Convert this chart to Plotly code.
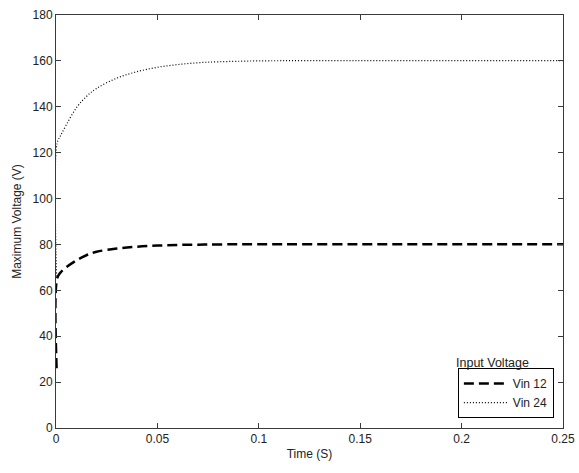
import plotly.graph_objects as go

# Data
time_vin12 = [0.0003, 0.0005, 0.002, 0.005, 0.01, 0.015, 0.02, 0.03, 0.04, 0.05,
              0.06, 0.07, 0.08, 0.1, 0.15, 0.2, 0.25]
vin12 = [26, 65, 67.5, 70, 73, 75.3, 76.8, 78.2, 79.0, 79.5,
         79.8, 79.9, 80, 80.1, 80.1, 80.1, 80.1]

time_vin24 = [0.0003, 0.0005, 0.002, 0.005, 0.01, 0.015, 0.02, 0.03, 0.04, 0.05,
              0.06, 0.07, 0.08, 0.1, 0.15, 0.2, 0.25]
vin24 = [66, 124, 127, 132, 139.5, 144.5, 148, 152.5, 155.3, 157.2,
         158.4, 159.2, 159.6, 160, 160.1, 160.1, 160.1]

x_ticks = [0, 0.05, 0.1, 0.15, 0.2, 0.25]
x_tick_labels = ["0", "0.05", "0.1", "0.15", "0.2", "0.25"]
y_ticks = [0, 20, 40, 60, 80, 100, 120, 140, 160, 180]

FONT = "Liberation Sans, Arial, sans-serif"
AXC = "#3a3a3a"
TXT = "#222"

fig = go.Figure()
fig.add_trace(go.Scatter(x=time_vin12, y=vin12, mode="lines", name="Vin 12",
                         line=dict(color="black", width=2.5, dash="10px,5px"),
                         line_shape="spline"))
fig.add_trace(go.Scatter(x=time_vin24, y=vin24, mode="lines", name="Vin 24",
                         line=dict(color="black", width=1.2, dash="1px,2px"),
                         line_shape="spline"))

axis_common = dict(showline=True, linecolor=AXC, linewidth=1, mirror="allticks",
                   ticks="inside", ticklen=5, tickcolor=AXC, showgrid=False,
                   zeroline=False, automargin=False,
                   tickfont=dict(family=FONT, size=12, color=TXT))

fig.update_xaxes(range=[0, 0.25], tickvals=x_ticks, ticktext=x_tick_labels,
                 title=dict(text="Time (S)", font=dict(family=FONT, size=12, color=TXT),
                            standoff=4),
                 **axis_common)
fig.update_yaxes(range=[0, 180], tickvals=y_ticks,
                 title=dict(text="Maximum Voltage (V)", font=dict(family=FONT, size=12, color=TXT),
                            standoff=8),
                 **axis_common)

fig.add_annotation(text="Input Voltage", xref="paper", yref="paper",
                   x=0.785, y=0.157, xanchor="left", yanchor="middle", showarrow=False,
                   font=dict(family=FONT, size=12.5, color=TXT))

fig.update_layout(
    width=579, height=473,
    margin=dict(l=56, r=16, t=15, b=45, autoexpand=False),
    paper_bgcolor="white", plot_bgcolor="white",
    showlegend=True,
    legend=dict(x=0.982, y=0.024, xanchor="right", yanchor="bottom",
                bordercolor="black", borderwidth=1, bgcolor="white",
                font=dict(family=FONT, size=12, color=TXT),
                tracegroupgap=0, itemwidth=44),
)

fig.write_html("out.html")
